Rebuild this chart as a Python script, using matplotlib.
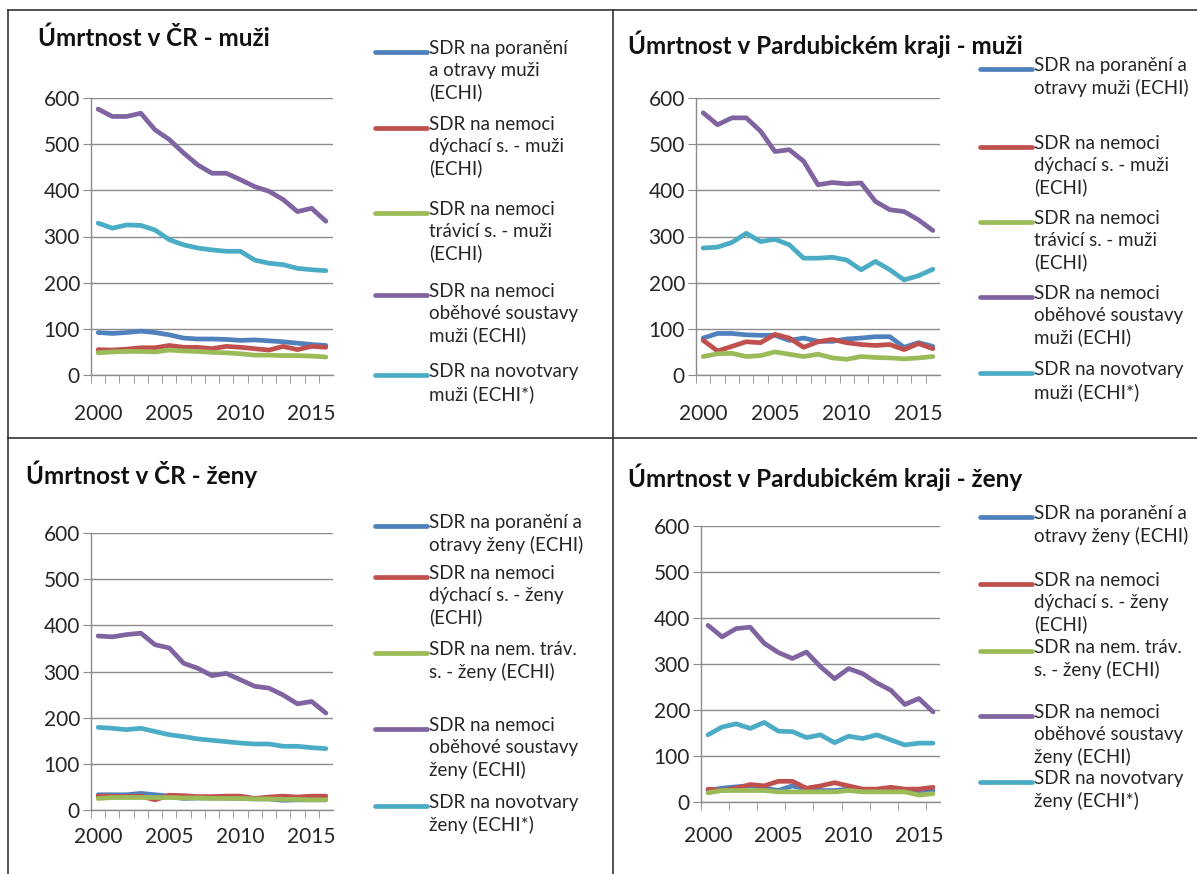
import matplotlib.pyplot as plt
from matplotlib.lines import Line2D

W, H = 1197, 874

years = list(range(2000, 2017))

# CR - muzi
cr_m_poraneni = [92, 90, 92, 95, 92, 87, 80, 78, 78, 77, 75, 76, 74, 72, 69, 66, 64]
cr_m_dychaci = [55, 54, 56, 59, 59, 64, 60, 60, 57, 62, 60, 57, 54, 62, 55, 62, 60]
cr_m_travici = [48, 50, 51, 51, 50, 54, 52, 51, 49, 48, 46, 43, 43, 42, 42, 41, 39]
cr_m_obehove = [576, 560, 560, 567, 531, 510, 481, 455, 437, 437, 423, 408, 398, 380, 354, 361, 333]
cr_m_novotvary = [329, 318, 325, 324, 314, 293, 282, 275, 271, 268, 268, 249, 242, 239, 231, 228, 226]

# Pardubicky kraj - muzi
pk_m_poraneni = [80, 90, 90, 87, 86, 86, 75, 80, 73, 73, 78, 80, 83, 83, 60, 70, 62]
pk_m_dychaci = [75, 52, 62, 72, 70, 88, 80, 60, 72, 77, 70, 66, 64, 66, 55, 68, 57]
pk_m_travici = [40, 46, 47, 40, 42, 50, 45, 40, 45, 37, 34, 40, 38, 37, 35, 37, 40]
pk_m_obehove = [568, 542, 557, 557, 528, 484, 488, 463, 412, 417, 414, 416, 376, 358, 354, 336, 313]
pk_m_novotvary = [275, 277, 287, 307, 289, 294, 282, 253, 253, 255, 249, 228, 246, 228, 206, 215, 229]

# CR - zeny
cr_z_poraneni = [33, 33, 33, 36, 33, 30, 25, 26, 26, 26, 25, 24, 24, 21, 22, 22, 22]
cr_z_dychaci = [30, 30, 29, 30, 22, 32, 31, 29, 29, 30, 30, 25, 28, 30, 28, 30, 30]
cr_z_travici = [25, 27, 27, 27, 27, 27, 26, 26, 25, 25, 25, 24, 24, 23, 23, 22, 22]
cr_z_obehove = [377, 375, 380, 383, 358, 351, 318, 307, 291, 296, 282, 268, 264, 249, 230, 235, 210]
cr_z_novotvary = [179, 177, 174, 177, 170, 163, 159, 154, 151, 148, 145, 143, 143, 138, 138, 135, 133]

# Pardubicky kraj - zeny
pk_z_poraneni = [25, 30, 33, 35, 30, 25, 35, 28, 25, 25, 28, 25, 25, 25, 25, 22, 25]
pk_z_dychaci = [28, 25, 30, 38, 35, 45, 45, 30, 35, 42, 35, 28, 28, 32, 28, 28, 32]
pk_z_travici = [20, 25, 25, 25, 25, 22, 22, 22, 22, 22, 25, 22, 22, 22, 22, 15, 18]
pk_z_obehove = [384, 359, 377, 380, 345, 325, 312, 326, 294, 268, 290, 279, 259, 243, 212, 225, 196]
pk_z_novotvary = [146, 163, 170, 160, 173, 154, 153, 140, 146, 129, 143, 138, 146, 135, 124, 128, 128]

titles = ["Úmrtnost v ČR - muži", "Úmrtnost v Pardubickém kraji - muži",
          "Úmrtnost v ČR - ženy", "Úmrtnost v Pardubickém kraji - ženy"]

labels_m1 = ["SDR na poranění\na otravy muži\n(ECHI)", "SDR na nemoci\ndýchací s. - muži\n(ECHI)",
             "SDR na nemoci\ntrávicí s. - muži\n(ECHI)", "SDR na nemoci\noběhové soustavy\nmuži (ECHI)",
             "SDR na novotvary\nmuži (ECHI*)"]
labels_m2 = ["SDR na poranění a\notravy muži (ECHI)", "SDR na nemoci\ndýchací s. - muži\n(ECHI)",
             "SDR na nemoci\ntrávicí s. - muži\n(ECHI)", "SDR na nemoci\noběhové soustavy\nmuži (ECHI)",
             "SDR na novotvary\nmuži (ECHI*)"]
labels_z = ["SDR na poranění a\notravy ženy (ECHI)", "SDR na nemoci\ndýchací s. - ženy\n(ECHI)",
            "SDR na nem. tráv.\ns. - ženy (ECHI)", "SDR na nemoci\noběhové soustavy\nženy (ECHI)",
            "SDR na novotvary\nženy (ECHI*)"]

colors = ["#4F81BD", "#C0504D", "#9BBB59", "#8064A2", "#4BACC6"]

plt.rcParams['font.family'] = ['Lato', 'DejaVu Sans']

fig = plt.figure(figsize=(W / 100, H / 100), dpi=100)


def fx(px):
    return px / W


def fy(py):
    return 1 - py / H


# panel frame lines
frame_col = "#333333"
fig.add_artist(Line2D([fx(8), 1], [fy(10), fy(10)], color=frame_col, lw=1.2))
fig.add_artist(Line2D([fx(8), fx(8)], [fy(10), 0], color=frame_col, lw=1.2))
fig.add_artist(Line2D([fx(613), fx(613)], [fy(10), 0], color=frame_col, lw=1.2))
fig.add_artist(Line2D([fx(8), 1], [fy(438), fy(438)], color=frame_col, lw=1.2))

panels = [
    # axes box (left, right, top, bottom), title pos, tick step, x label pad, legend x, legend ys
    dict(box=(91, 333, 98, 375), title=(38, 38), step=1, xpad=21, leg_x=375, leg_y=[52, 128, 213, 295, 375],
         data=[cr_m_poraneni, cr_m_dychaci, cr_m_travici, cr_m_obehove, cr_m_novotvary], labels=labels_m1),
    dict(box=(696, 940, 98, 375), title=(628, 44), step=1, xpad=21, leg_x=980, leg_y=[69, 147, 222, 297, 373],
         data=[pk_m_poraneni, pk_m_dychaci, pk_m_travici, pk_m_obehove, pk_m_novotvary], labels=labels_m2),
    dict(box=(91, 333, 533, 810), title=(26, 474), step=1, xpad=12, leg_x=375, leg_y=[526, 577, 653, 729, 806],
         data=[cr_z_poraneni, cr_z_dychaci, cr_z_travici, cr_z_obehove, cr_z_novotvary], labels=labels_z),
    dict(box=(701, 940, 526, 802), title=(628, 477), step=2, xpad=17, leg_x=980, leg_y=[517, 584, 651, 716, 782],
         data=[pk_z_poraneni, pk_z_dychaci, pk_z_travici, pk_z_obehove, pk_z_novotvary], labels=labels_z),
]

for p, title in zip(panels, titles):
    l, r, t, b = p["box"]
    ax = fig.add_axes([fx(l), fy(b), (r - l) / W, (b - t) / H])
    for series, c in zip(p["data"], colors):
        ax.plot(years, series, color=c, lw=3.4, solid_capstyle="round", solid_joinstyle="round")
    ax.set_xlim(years[0] - 0.5, years[-1] + 0.5)
    ax.set_ylim(0, 600)
    ax.set_yticks(range(0, 601, 100))
    ax.grid(axis="y", color="#8C8C8C", lw=1)
    ax.set_axisbelow(True)
    for s in ["top", "right"]:
        ax.spines[s].set_visible(False)
    for s in ["left", "bottom"]:
        ax.spines[s].set_color("#8C8C8C")
        ax.spines[s].set_linewidth(1)
    ax.set_xticks([2000, 2005, 2010, 2015])
    ax.set_xticklabels(["2000", "2005", "2010", "2015"])
    ax.set_xticks([y - 0.5 for y in years[::p["step"]]], minor=True)
    ax.tick_params(axis="x", which="major", length=0, pad=p["xpad"], labelsize=15, labelcolor="#262626")
    ax.tick_params(axis="x", which="minor", length=6, color="#8C8C8C", direction="out")
    ax.tick_params(axis="y", length=6, color="#8C8C8C", labelsize=15, labelcolor="#262626", pad=2)

    fig.text(fx(p["title"][0]), fy(p["title"][1]), title, fontsize=17.5, fontweight="bold",
             color="#111111", ha="left", va="center")

    for lab, c, ly in zip(p["labels"], colors, p["leg_y"]):
        fig.add_artist(Line2D([fx(p["leg_x"]), fx(p["leg_x"] + 52)], [fy(ly), fy(ly)],
                              color=c, lw=3.4, solid_capstyle="round"))
        fig.text(fx(p["leg_x"] + 54), fy(ly - 12), lab, fontsize=13.5, color="#262626",
                 ha="left", va="top", linespacing=1.33)

fig.savefig("out.png", dpi=100, facecolor="white")
